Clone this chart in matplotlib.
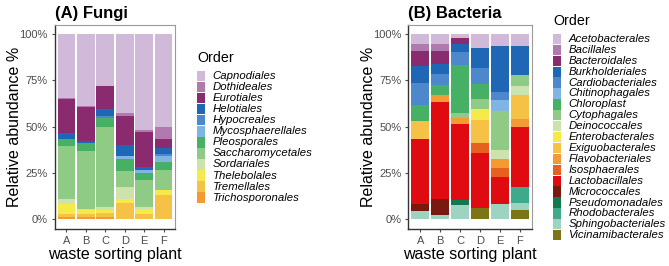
import matplotlib
matplotlib.use("Agg")
import matplotlib.pyplot as plt
from matplotlib.patches import Rectangle
import numpy as np

plt.rcParams['font.family'] = ['Liberation Sans', 'DejaVu Sans']

W, H = 669, 266

plants = ["A", "B", "C", "D", "E", "F"]

# fungi orders (legend order, top of stack first)
fungi_orders = ["Capnodiales", "Dothideales", "Eurotiales", "Helotiales", "Hypocreales",
                "Mycosphaerellales", "Pleosporales", "Saccharomycetales", "Sordariales",
                "Thelebolales", "Tremellales", "Trichosporonales"]
capnodiales       = [34.4, 38.8, 28.1, 42.5, 52.0, 50.2]
dothideales       = [0.7, 0.5, 0.0, 1.8, 1.0, 6.5]
eurotiales        = [18.5, 18.4, 12.4, 15.8, 18.8, 5.0]
helotiales        = [3.2, 1.2, 3.7, 5.8, 1.6, 2.9]
hypocreales       = [0.0, 0.0, 1.0, 0.0, 0.0, 1.4]
mycosphaerellales = [0.0, 0.0, 0.0, 1.4, 1.8, 2.9]
pleosporales      = [3.8, 4.5, 4.9, 6.5, 3.6, 4.7]
saccharomycetales = [28.2, 30.8, 43.5, 9.0, 14.8, 10.5]
sordariales       = [3.0, 1.0, 1.4, 6.1, 0.8, 0.0]
thelebolales      = [5.2, 1.8, 1.8, 2.5, 2.6, 2.9]
tremellales       = [1.8, 2.0, 1.8, 8.6, 3.0, 13.0]
trichosporonales  = [1.2, 1.0, 1.4, 0.0, 0.0, 0.0]
fungi_vals = [capnodiales, dothideales, eurotiales, helotiales, hypocreales, mycosphaerellales,
              pleosporales, saccharomycetales, sordariales, thelebolales, tremellales,
              trichosporonales]

# bacteria orders
bact_orders = ["Acetobacterales", "Bacillales", "Bacteroidales", "Burkholderiales",
               "Cardiobacteriales", "Chitinophagales", "Chloroplast", "Cytophagales",
               "Deinococcales", "Enterobacterales", "Exiguobacterales", "Flavobacteriales",
               "Isosphaerales", "Lactobacillales", "Micrococcales", "Pseudomonadales",
               "Rhodobacterales", "Sphingobacteriales", "Vicinamibacterales"]
acetobacterales    = [5.2, 5.2, 2.3, 7.7, 6.7, 6.5]
bacillales         = [4.0, 4.0, 0.0, 0.0, 0.0, 0.0]
bacteroidales      = [7.9, 7.2, 2.9, 0.0, 0.0, 0.0]
burkholderiales    = [9.4, 5.4, 4.3, 10.8, 24.8, 15.5]
cardiobacteriales  = [11.9, 5.8, 7.2, 8.3, 4.3, 0.0]
chitinophagales    = [0.0, 0.0, 0.0, 0.0, 5.8, 0.0]
chloroplast        = [8.6, 5.4, 25.9, 8.3, 0.0, 0.0]
cytophagales       = [0.0, 0.0, 2.9, 5.4, 20.9, 6.1]
deinococcales      = [0.0, 0.0, 0.0, 0.0, 5.0, 5.0]
enterobacterales   = [0.0, 0.0, 0.0, 6.1, 0.0, 0.0]
exiguobacterales   = [9.4, 0.0, 0.0, 12.2, 0.0, 12.6]
flavobacteriales   = [0.0, 3.6, 2.9, 0.0, 4.7, 4.7]
isosphaerales      = [0.0, 0.0, 0.0, 5.4, 5.0, 0.0]
lactobacillales    = [35.5, 52.5, 41.4, 29.9, 14.4, 32.4]
micrococcales      = [3.6, 8.6, 0.0, 0.0, 0.0, 0.0]
pseudomonadales    = [0.0, 0.0, 2.2, 0.0, 0.0, 0.0]
rhodobacterales    = [0.0, 0.0, 0.0, 0.0, 0.0, 8.3]
sphingobacteriales = [4.5, 2.3, 8.0, 0.0, 8.4, 4.0]
vicinamibacterales = [0.0, 0.0, 0.0, 5.9, 0.0, 4.9]
bact_vals = [acetobacterales, bacillales, bacteroidales, burkholderiales, cardiobacteriales,
             chitinophagales, chloroplast, cytophagales, deinococcales, enterobacterales,
             exiguobacterales, flavobacteriales, isosphaerales, lactobacillales, micrococcales,
             pseudomonadales, rhodobacterales, sphingobacteriales, vicinamibacterales]

palette = ["#D0B9D9", "#B07AAE", "#8A2B70", "#1F66B5", "#4D87CC", "#80B4E3", "#46B065",
           "#8FCB85", "#CCE3AE", "#F5EA4A", "#F6C246", "#F39A32", "#E9601E", "#E00A11",
           "#7B1810", "#13784F", "#3FA98B", "#9ED3C2", "#7C7516"]
fungi_colors = palette[:9] + ["#F5EA4A", "#F6C246", "#F39A32"]
bact_colors = palette

fig = plt.figure(figsize=(W / 100, H / 100), dpi=100)


def px_axes(left, right, top, bottom):
    return fig.add_axes([left / W, 1 - bottom / H, (right - left) / W, (bottom - top) / H])


def draw_panel(ax, vals, colors, title):
    x = np.arange(len(plants))
    bottom = np.zeros(len(plants))
    # last order in the legend sits at the bottom of the stack
    for v, c in zip(vals[::-1], colors[::-1]):
        v = np.array(v)
        ax.bar(x, v, width=0.9, bottom=bottom, color=c, linewidth=0)
        bottom += v
    ax.set_xlim(-0.6, len(plants) - 0.4)
    ax.set_ylim(-5, 105)
    ax.set_xticks(x)
    ax.set_xticklabels(plants)
    ax.set_yticks([0, 25, 50, 75, 100])
    ax.set_yticklabels(["0%", "25%", "50%", "75%", "100%"])
    ax.tick_params(colors="#4D4D4D", labelsize=8, length=2.5, width=0.8, pad=2.5)
    for s in ["left", "bottom"]:
        ax.spines[s].set_color("#333333")
        ax.spines[s].set_linewidth(1.0)
    for s in ["top", "right"]:
        ax.spines[s].set_color("#9A9A9A")
        ax.spines[s].set_linewidth(0.8)
    ax.set_xlabel("waste sorting plant", fontsize=11.5, labelpad=1)
    ax.set_ylabel("Relative abundance %", fontsize=11.5, labelpad=-2)
    ax.set_title(title, fontsize=12, fontweight="bold", loc="left", pad=5, x=0.0)


def draw_legend(names, colors, key_left, first_y, step, title_y):
    fig.text(key_left / W, 1 - title_y / H, "Order", fontsize=10.3, va="center", ha="left")
    for i, (n, c) in enumerate(zip(names, colors)):
        yc = first_y + i * step
        fig.add_artist(Rectangle((key_left / W, 1 - (yc + step / 2 - 0.3) / H),
                                 8 / W, (step - 0.6) / H, transform=fig.transFigure,
                                 facecolor=c, edgecolor="none"))
        fig.text((key_left + 15.5) / W, 1 - yc / H, n, fontsize=8.2, style="italic",
                 va="center", ha="left")


ax1 = px_axes(54.6, 175.4, 24.7, 228.6)
draw_panel(ax1, fungi_vals, fungi_colors, "(A) Fungi")
draw_legend(fungi_orders, fungi_colors, 197, 76, 11.06, 58)

ax2 = px_axes(408.4, 531.5, 24.7, 228.6)
draw_panel(ax2, bact_vals, bact_colors, "(B) Bacteria")
draw_legend(bact_orders, bact_colors, 553, 39, 10.9, 21)

fig.savefig("out.png", dpi=100)
